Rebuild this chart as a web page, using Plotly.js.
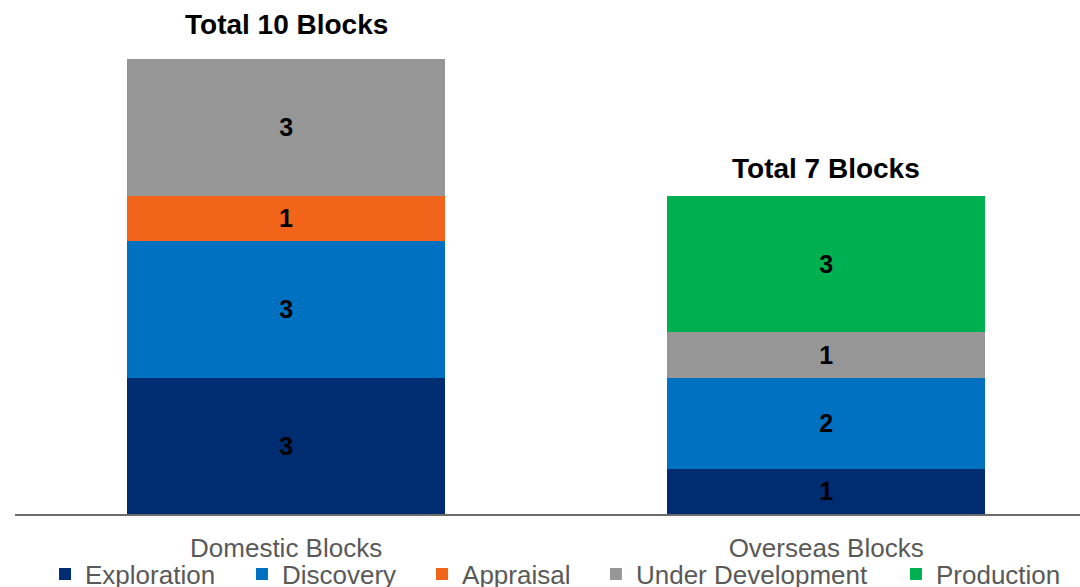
<!DOCTYPE html>
<html>
<head>
<meta charset="utf-8">
<script src="https://cdn.plot.ly/plotly-3.0.1.min.js"></script>
<style>html,body{margin:0;padding:0;background:#fff;}#chart{width:1080px;height:587px;}</style>
</head>
<body>
<div id="chart"></div>
<script>
const categories = ["Domestic Blocks", "Overseas Blocks"];
const exploration = [3, 1];
const discovery = [3, 2];
const appraisal = [1, null];
const underDevelopment = [3, 1];
const production = [null, 3];
const seriesNames = ["Exploration", "Discovery", "Appraisal", "Under Development", "Production"];
const seriesColors = ["#002D72", "#0070C0", "#F26419", "#969696", "#00B050"];

const allSeries = [exploration, discovery, appraisal, underDevelopment, production];
const legendIds = ["legend", "legend2", "legend3", "legend4", "legend5"];
const FONT = "Liberation Sans, Arial, sans-serif";

const traces = allSeries.map((vals, i) => ({
  type: "bar",
  name: seriesNames[i],
  x: categories,
  y: vals,
  marker: {color: seriesColors[i], line: {width: 0}},
  text: vals.map(v => v == null ? "" : String(v)),
  texttemplate: "%{text}",
  textposition: "inside",
  insidetextanchor: "middle",
  textangle: 0,
  textfont: {family: FONT, size: 25, color: "#000000", weight: "bold"},
  constraintext: "none",
  hoverinfo: "x+y+name",
  legend: legendIds[i]
}));

const totals = categories.map((c, j) => allSeries.reduce((s, arr) => s + (arr[j] || 0), 0));
const titleShifts = [35, 27];
const annotations = categories.map((c, j) => ({
  x: c, y: totals[j], xref: "x", yref: "y",
  text: "<b>Total " + totals[j] + " Blocks</b>",
  showarrow: false, yanchor: "middle", yshift: titleShifts[j],
  font: {family: FONT, size: 28, color: "#000000"}
}));

const legendX = [0.0282, 0.2131, 0.3822, 0.5455, 0.8272];
const layout = {
  width: 1080, height: 587,
  margin: {l: 15, r: 0, t: 40, b: 73, autoexpand: false},
  paper_bgcolor: "#ffffff", plot_bgcolor: "#ffffff",
  font: {family: FONT, color: "#595959"},
  barmode: "stack",
  bargap: 0.411,
  showlegend: true,
  xaxis: {
    type: "category", range: [-0.502, 1.470],
    showline: true, linecolor: "#6b6b6b", linewidth: 2,
    ticks: "", showgrid: false, zeroline: false,
    ticklabelstandoff: 10,
    tickfont: {family: FONT, size: 26, color: "#595959"},
    automargin: false,
    fixedrange: true
  },
  yaxis: {range: [0, 10.418], visible: false, fixedrange: true},
  annotations: annotations
};
legendIds.forEach((id, i) => {
  layout[id] = {
    orientation: "h", x: legendX[i], xanchor: "left", y: -0.127, yanchor: "middle",
    bgcolor: "rgba(0,0,0,0)", borderwidth: 0,
    font: {family: FONT, size: 26, color: "#595959"}
  };
});

Plotly.newPlot("chart", traces, layout, {displayModeBar: false, staticPlot: true});
</script>
</body>
</html>
